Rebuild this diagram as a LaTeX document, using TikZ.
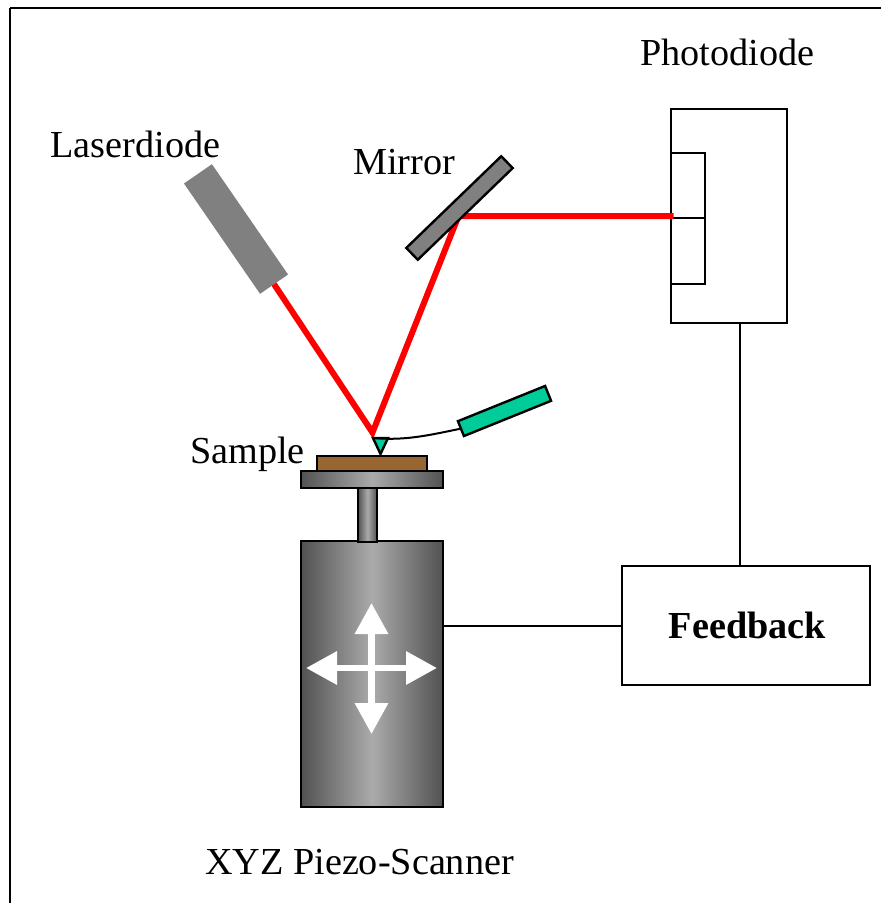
\documentclass[tikz,border=0pt]{standalone}
\usepackage{fontspec}
\setmainfont{Liberation Serif}
\usetikzlibrary{arrows.meta}

\tikzset{
	box/.style={draw,line width=2.4pt,rectangle,inner sep=0pt,outer sep=0pt},
	steel/.style={box,left color=black!68,right color=black!68,middle color=black!33},
	label/.style={anchor=base,inner sep=0pt,font=\fontsize{38.2}{40}\selectfont},
	beam/.style={red,line width=6pt},
	wire/.style={line width=2pt},
	move/.style={white,line width=6.5pt,{Triangle[length=31pt,width=32pt]}-{Triangle[length=31pt,width=32pt]}}
}

\begin{document}
\begin{tikzpicture}[x=1pt,y=-1pt]
	  \useasboundingbox (0,0) rectangle (881,903);
	  \coordinate (corner) at (10,7.5);
	  \coordinate (frameright) at (881,7.5);
	  \coordinate (framebottom) at (10,903);
	  \draw[wire] (frameright) -- (corner);
	  \draw[line width=2.5pt] (corner) -- (framebottom);

	  \node[label] (photolabel) at (727.5,65) {Photodiode};
	  \node[label] (laserlabel) at (135.5,157.5) {Laserdiode};
	  \node[label] (mirrorlabel) at (404,174) {Mirror};
	  \node[label] (samplelabel) at (247.5,463) {Sample};
	  \node[label] (scannerlabel) at (359.5,874) {XYZ Piezo-Scanner};

	  % photodiode and its two segments
	  \node[box,minimum width=116pt,minimum height=214pt] (photodiode) at (729,216) {};
	  \node[box,line width=2pt,minimum width=33.5pt,minimum height=65.5pt] (seg1) at (688,185.25) {};
	  \node[box,line width=2pt,minimum width=33.5pt,minimum height=66pt] (seg2) at (688,251) {};

	  \node[box,font=\fontsize{38.2}{40}\selectfont\bfseries,minimum width=248pt,minimum height=119pt] (feedback) at (746,625.5) {\hspace*{3pt}Feedback};

	  % scanner
	  \node[steel,minimum width=142pt,minimum height=266pt] (scanner) at (372,674) {};
	  \node[steel,minimum width=19pt,minimum height=55pt] (stem) at (367.5,514.5) {};
	  \node[steel,minimum width=142pt,minimum height=17pt] (plate) at (372,479.5) {};
	  \node[box,fill={rgb,255:red,153;green,102;blue,51},minimum width=110pt,minimum height=15pt] (sample) at (372,463.5) {};

	  \coordinate (up) at (371.5,603);
	  \coordinate (down) at (371.5,734);
	  \coordinate (left) at (306,668);
	  \coordinate (right) at (437,668);
	  \draw[move] (left) -- (right);
	  \draw[move] (up) -- (down);

	  % beam path
	  \node[fill=black!50,draw=none,inner sep=0pt,outer sep=0pt,minimum width=134pt,minimum height=34pt,rotate=-55.4] (laser) at (236,229) {};
	  \coordinate (tip) at (372.5,432.5);
	  \coordinate (hit) at (458.5,216);
	  \coordinate (spot) at (673.5,216);
	  \draw[beam] (laser.east) -- (tip) -- (hit) -- (spot);
	  \node[box,fill=black!50,minimum width=132pt,minimum height=16.5pt,rotate=44] (mirror) at (459.5,208) {};

	  % cantilever
	  \definecolor{canti}{RGB}{0,204,153}
	  \node[box,fill=canti,minimum width=94pt,minimum height=16pt,rotate=22] (holder) at (504.5,411) {};
	  \coordinate (t1) at (373,438);
	  \coordinate (t2) at (388,438);
	  \coordinate (t3) at (380.5,454);
	  \draw[box,fill=canti] (t1) -- (t2) -- (t3) -- cycle;
	  \draw[wire] (t1) .. controls (405,441) and (430,435) .. (holder.west);

	  % wiring
	  \coordinate (drop) at (740,445);
	  \draw[wire] (drop |- photodiode.south) -- (drop |- feedback.north);
	  \draw[wire] (scanner.east |- feedback.west) -- (feedback.west);
\end{tikzpicture}
\end{document}
